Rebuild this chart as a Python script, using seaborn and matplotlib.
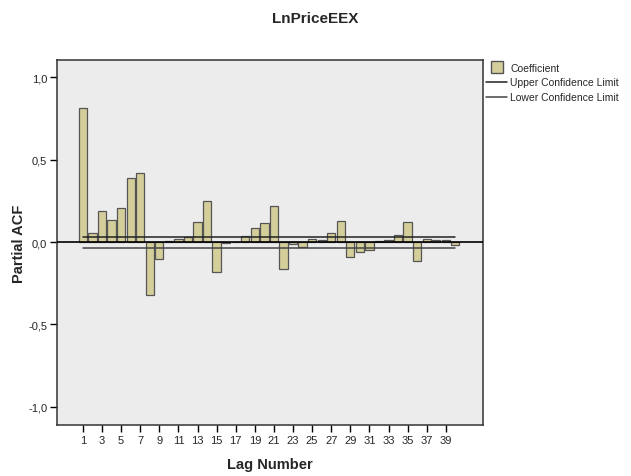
import numpy as np
import pandas as pd
import matplotlib
matplotlib.use("Agg")
import matplotlib.pyplot as plt
import seaborn as sns
from matplotlib.lines import Line2D

# partial autocorrelation values, lags 1..40
lags = list(range(1, 41))
pacf = [0.81, 0.056, 0.19, 0.135, 0.204, 0.39, 0.42, -0.32, -0.103, 0.005,
        0.02, 0.028, 0.12, 0.246, -0.18, -0.007, 0.0, 0.036, 0.087, 0.115,
        0.22, -0.162, -0.012, -0.03, 0.018, 0.012, 0.056, 0.13, -0.093, -0.061,
        -0.05, 0.006, 0.012, 0.042, 0.123, -0.113, 0.018, 0.012, 0.014, -0.016]
upper_limit = 0.031
lower_limit = -0.034
tick_lags = list(range(1, 40, 2))
y_ticks = [-1.0, -0.5, 0.0, 0.5, 1.0]

df = pd.DataFrame({"lag": lags, "pacf": pacf})

sns.set_style("white")
plt.rcParams["font.family"] = ["Liberation Sans", "DejaVu Sans"]

fig = plt.figure(figsize=(6.31, 4.77), dpi=100)
ax = fig.add_axes([0.0903, 0.107, 0.6752, 0.765])
ax.set_facecolor("#EBECEB")

sns.barplot(data=df, x="lag", y="pacf", native_scale=True, width=0.87,
            color="#D4CE9A", edgecolor="#555555", linewidth=0.9,
            saturation=1, ax=ax)

ax.axhline(0, color="black", lw=1.2, zorder=3)
ax.plot([lags[0], lags[-1]], [upper_limit, upper_limit], color="#222222", lw=1.1, zorder=3)
ax.plot([lags[0], lags[-1]], [lower_limit, lower_limit], color="#444444", lw=1.1, zorder=3)

ax.set_xlim(-1.72, 42.9)
ax.set_ylim(-1.109, 1.103)
ax.set_xticks(tick_lags)
ax.set_xticklabels([str(t) for t in tick_lags], fontsize=8)
ax.set_yticks(y_ticks)
ax.set_yticklabels([f"{v:.1f}".replace(".", ",") for v in y_ticks], fontsize=8)
ax.tick_params(axis="both", direction="out", length=5, width=1, color="black",
               bottom=True, left=True, pad=2)

for s in ax.spines.values():
    s.set_color("#333333")
    s.set_linewidth(1.1)

ax.set_xlabel("Lag Number", fontsize=10.5, fontweight="bold")
ax.xaxis.set_label_coords(0.5, -0.088)
ax.set_ylabel("Partial ACF", fontsize=10.5, fontweight="bold")
ax.yaxis.set_label_coords(-0.072, 0.5)
fig.suptitle("LnPriceEEX", x=0.5, y=0.975, fontsize=11, fontweight="bold")

handles = [
    Line2D([0], [0], linestyle="none", marker="s", markersize=8.5,
           markerfacecolor="#D4CE9A", markeredgecolor="#555555", label="Coefficient"),
    Line2D([0], [0], color="#222222", lw=1.1, label="Upper Confidence Limit"),
    Line2D([0], [0], color="#444444", lw=1.1, label="Lower Confidence Limit"),
]
fig.legend(handles=handles, loc="upper left", bbox_to_anchor=(0.764, 0.875),
           frameon=False, fontsize=7.5, handlelength=2.0, handletextpad=0.3,
           labelspacing=0.45, borderaxespad=0)

fig.savefig("out.png", dpi=100)
